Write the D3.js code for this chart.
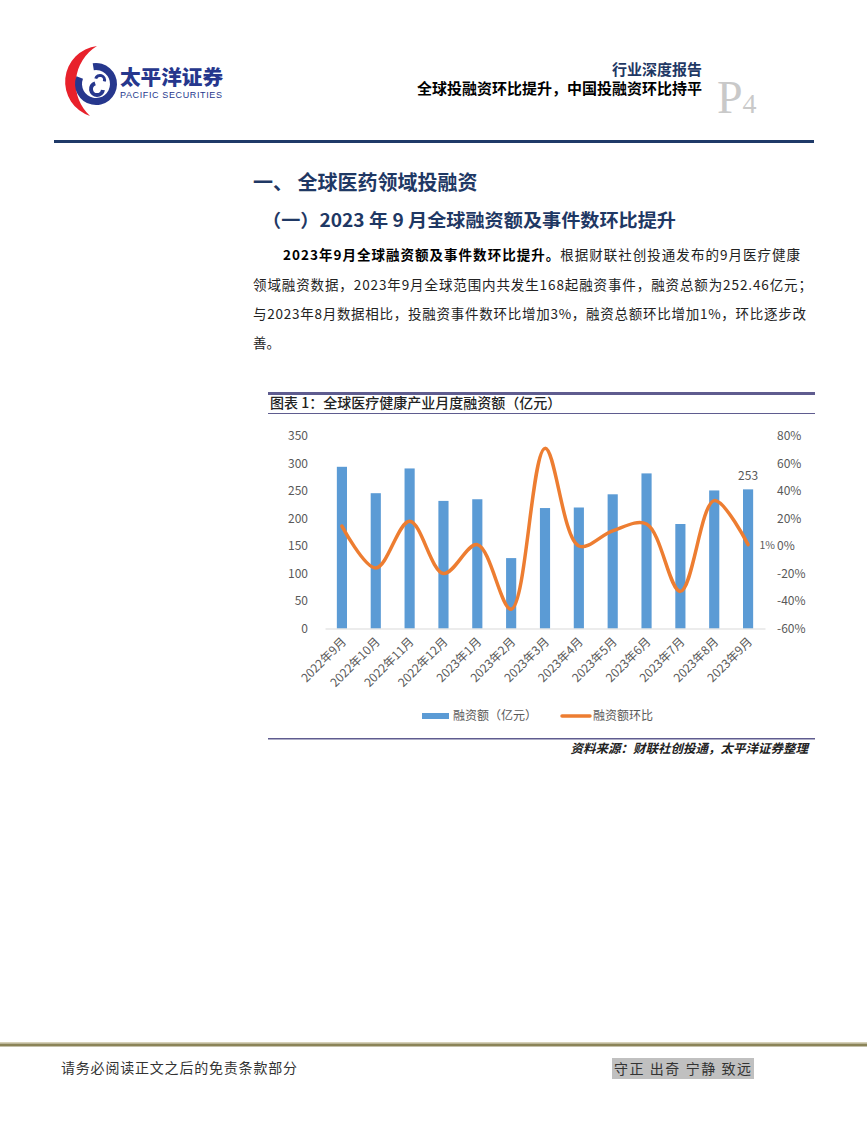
<!DOCTYPE html>
<html>
<head>
<meta charset="utf-8">
<script src="https://cdn.jsdelivr.net/npm/d3@7"></script>
<style>
  html, body { margin: 0; padding: 0; background: #fff; }
  svg { display: block; }
</style>
</head>
<body>
<script>
// ---------- data ----------
const months = ["2022年9月","2022年10月","2022年11月","2022年12月","2023年1月","2023年2月","2023年3月","2023年4月","2023年5月","2023年6月","2023年7月","2023年8月","2023年9月"];
const amounts = [294, 246, 291, 232, 235, 128, 219, 220, 244, 282, 190, 251, 253];
const momRates = [0.145, -0.16, 0.18, -0.20, 0.01, -0.46, 0.71, 0.00, 0.11, 0.16, -0.33, 0.33, 0.01];
const leftTicks = [0, 50, 100, 150, 200, 250, 300, 350];
const rightTicks = [-0.6, -0.4, -0.2, 0, 0.2, 0.4, 0.6, 0.8];
const seriesNames = ["融资额（亿元）", "融资额环比"];

const W = 867, H = 1122;
const FONT = "'Noto Sans CJK SC', 'Noto Sans', sans-serif";
const svg = d3.select("body").append("svg").attr("width", W).attr("height", H)
  .style("font-family", FONT);

// ---------- header ----------
const logo = svg.append("g");
logo.append("path")
  .attr("d", "M97,46 A36,36 0 0 0 90,116 A44,44 0 0 1 97,46 Z")
  .attr("fill", "#e8212b");
logo.append("path")
  .attr("transform", "translate(96,84)")
  .attr("d", d3.arc()({innerRadius: 14, outerRadius: 21, startAngle: -0.05 * Math.PI, endAngle: 1.62 * Math.PI}))
  .attr("fill", "#26378d");
logo.append("path")
  .attr("transform", "translate(97,89)")
  .attr("d", d3.arc()({innerRadius: 4, outerRadius: 8, startAngle: 0.55 * Math.PI, endAngle: 1.9 * Math.PI}))
  .attr("fill", "#26378d");
logo.append("path")
  .attr("transform", "translate(100,80)")
  .attr("d", d3.arc()({innerRadius: 3, outerRadius: 6, startAngle: -0.4 * Math.PI, endAngle: 0.6 * Math.PI}))
  .attr("fill", "#26378d");

svg.append("text").attr("x", 120).attr("y", 85).text("太平洋证券")
  .attr("font-size", 20).attr("font-weight", 900).attr("fill", "#26378d")
  .attr("textLength", 103).attr("lengthAdjust", "spacingAndGlyphs");
svg.append("text").attr("x", 120).attr("y", 98).text("PACIFIC SECURITIES")
  .attr("font-size", 9).attr("fill", "#26378d").attr("font-family", "'Liberation Sans', Arial, sans-serif")
  .attr("textLength", 102).attr("lengthAdjust", "spacing");

svg.append("text").attr("x", 702).attr("y", 75).attr("text-anchor", "end")
  .text("行业深度报告").attr("font-size", 15).attr("font-weight", 700).attr("fill", "#1f3864");
svg.append("text").attr("x", 702).attr("y", 94).attr("text-anchor", "end")
  .text("全球投融资环比提升，中国投融资环比持平").attr("font-size", 15).attr("font-weight", 700).attr("fill", "#000");
const pg = svg.append("text").attr("x", 717).attr("y", 113)
  .attr("font-family", "'Liberation Serif', 'DejaVu Serif', serif").attr("fill", "#c9c9c9");
pg.append("tspan").attr("font-size", 46).text("P");
pg.append("tspan").attr("font-size", 28).text("4");

svg.append("rect").attr("x", 54).attr("y", 140).attr("width", 760).attr("height", 3).attr("fill", "#1f3a68");

// ---------- headings & paragraph ----------
svg.append("text").attr("x", 253).attr("y", 190)
  .text("一、 全球医药领域投融资").attr("font-size", 20).attr("font-weight", 700).attr("fill", "#1f3864");
svg.append("text").attr("x", 262).attr("y", 227)
  .text("（一）2023 年 9 月全球融资额及事件数环比提升").attr("font-size", 18).attr("font-weight", 700).attr("fill", "#1f3864")
  .attr("textLength", 414).attr("lengthAdjust", "spacingAndGlyphs");

const pLines = [
  {x: 283, y: 260, w: 517, parts: [["2023年9月全球融资额及事件数环比提升。", true], ["根据财联社创投通发布的9月医疗健康", false]]},
  {x: 253, y: 290, w: 559, parts: [["领域融资数据，2023年9月全球范围内共发生168起融资事件，融资总额为252.46亿元；", false]]},
  {x: 253, y: 319, w: 553, parts: [["与2023年8月数据相比，投融资事件数环比增加3%，融资总额环比增加1%，环比逐步改", false]]},
  {x: 253, y: 348, w: null, parts: [["善。", false]]}
];
pLines.forEach(l => {
  const t = svg.append("text").attr("x", l.x).attr("y", l.y).attr("font-size", 13.5).attr("fill", "#222");
  if (l.w) t.attr("textLength", l.w).attr("lengthAdjust", "spacing");
  l.parts.forEach(p => t.append("tspan").text(p[0]).attr("font-weight", p[1] ? 700 : 400).attr("fill", p[1] ? "#000" : "#222"));
});

// ---------- chart frame ----------
svg.append("rect").attr("x", 268).attr("y", 392).attr("width", 547).attr("height", 3).attr("fill", "#5f5c8f");
svg.append("text").attr("x", 270).attr("y", 408)
  .text("图表 1：全球医疗健康产业月度融资额（亿元）").attr("font-size", 14).attr("font-weight", 500).attr("fill", "#222");
svg.append("rect").attr("x", 268).attr("y", 413).attr("width", 547).attr("height", 1).attr("fill", "#5f5c8f");
svg.append("rect").attr("x", 268).attr("y", 738).attr("width", 547).attr("height", 1.5).attr("fill", "#5f5c8f");
svg.append("text").attr("x", 808).attr("y", 753).attr("text-anchor", "end")
  .text("资料来源：财联社创投通，太平洋证券整理").attr("font-size", 12.5).attr("font-weight", 700)
  .attr("font-style", "italic").attr("fill", "#222");

// ---------- chart ----------
const x = d3.scaleBand().domain(months).range([325, 765]).paddingInner(0.7).paddingOuter(0.35);
const yL = d3.scaleLinear().domain([0, 350]).range([628.5, 436]);
const yR = d3.scaleLinear().domain([-0.6, 0.8]).range([628.5, 436]);
const labelColor = "#595959";

// left axis labels
const axL = svg.append("g").attr("transform", "translate(308,0)")
  .call(d3.axisLeft(yL).tickValues(leftTicks).tickSize(0).tickPadding(0));
axL.select(".domain").remove();
axL.selectAll("text").attr("font-size", 12).attr("fill", labelColor).attr("font-family", FONT);

// right axis labels
const axR = svg.append("g").attr("transform", "translate(777,0)")
  .call(d3.axisRight(yR).tickValues(rightTicks).tickSize(0).tickPadding(0).tickFormat(d => d3.format(".0%")(d).replace("−", "-")));
axR.select(".domain").remove();
axR.selectAll("text").attr("font-size", 12).attr("fill", labelColor).attr("font-family", FONT);

// bars
svg.append("g").selectAll("rect").data(amounts).join("rect")
  .attr("x", (d, i) => x(months[i]))
  .attr("width", x.bandwidth())
  .attr("y", d => yL(d))
  .attr("height", d => yL(0) - yL(d))
  .attr("fill", "#5b9bd5");

// x axis
const axB = svg.append("g").attr("transform", `translate(0,${yL(0)})`)
  .call(d3.axisBottom(x).tickSize(0).tickPadding(0));
axB.select(".domain").attr("stroke", "#d9d9d9").attr("stroke-width", 1);
axB.selectAll("text")
  .attr("font-size", 12).attr("fill", labelColor).attr("font-family", FONT)
  .attr("text-anchor", "end").attr("dy", null).attr("y", 0)
  .attr("transform", "translate(5,14) rotate(-45)");

// line
const line = d3.line()
  .x((d, i) => x(months[i]) + x.bandwidth() / 2)
  .y(d => yR(d))
  .curve(d3.curveCatmullRom.alpha(0.5));
svg.append("path").datum(momRates).attr("d", line)
  .attr("fill", "none").attr("stroke", "#ed7d31").attr("stroke-width", 3.5).attr("stroke-linecap", "round");

// data labels
const last = amounts.length - 1;
svg.append("text").attr("x", x(months[last]) + x.bandwidth() / 2).attr("y", yL(amounts[last]) - 9)
  .attr("text-anchor", "middle").attr("font-size", 12).attr("fill", labelColor).text(amounts[last]);
svg.append("text").attr("x", 775).attr("y", yR(momRates[last]) + 4)
  .attr("text-anchor", "end")
  .attr("font-size", 10.5).attr("fill", labelColor).text(d3.format(".0%")(momRates[last]));

// legend
const lg = svg.append("g");
lg.append("rect").attr("x", 422).attr("y", 713).attr("width", 27).attr("height", 6).attr("fill", "#5b9bd5");
lg.append("text").attr("x", 453).attr("y", 720).attr("font-size", 12).attr("fill", labelColor).text(seriesNames[0]);
lg.append("line").attr("x1", 562).attr("x2", 590).attr("y1", 716).attr("y2", 716)
  .attr("stroke", "#ed7d31").attr("stroke-width", 3.5).attr("stroke-linecap", "round");
lg.append("text").attr("x", 593).attr("y", 720).attr("font-size", 12).attr("fill", labelColor).text(seriesNames[1]);

// ---------- footer ----------
svg.append("rect").attr("x", 0).attr("y", 1042).attr("width", W).attr("height", 1.5).attr("fill", "#d6d1b8");
svg.append("rect").attr("x", 0).attr("y", 1043.5).attr("width", W).attr("height", 3).attr("fill", "#8b8458");
svg.append("text").attr("x", 61).attr("y", 1073).attr("font-size", 14).attr("fill", "#333")
  .text("请务必阅读正文之后的免责条款部分").attr("textLength", 236).attr("lengthAdjust", "spacing");
svg.append("rect").attr("x", 612).attr("y", 1058).attr("width", 142).attr("height", 21).attr("fill", "#c0c0c0");
svg.append("text").attr("x", 614).attr("y", 1074).attr("font-size", 14).attr("fill", "#333")
  .text("守正 出奇 宁静 致远").attr("textLength", 137).attr("lengthAdjust", "spacing");
</script>
</body>
</html>
